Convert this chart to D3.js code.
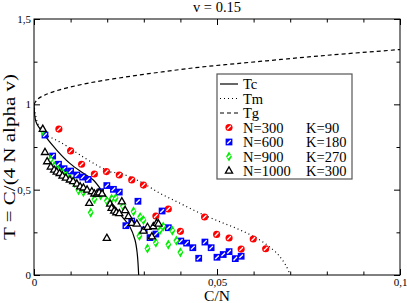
<!DOCTYPE html>
<html><head><meta charset="utf-8">
<script src="https://cdn.jsdelivr.net/npm/d3@7"></script>
<style>
body{margin:0;background:#fff}
svg{display:block}
text{font-family:"Liberation Serif","Times New Roman",serif;fill:#000}
</style>
</head><body>
<svg id="c" width="407" height="303"></svg>
<script>
// ---------- data ----------
const title = "v = 0.15";
const xLabel = "C/N";
const yLabel = "T = C/(4 N alpha v)";
const xTicks = [0, 0.05, 0.1];
const xTickLabels = ["0", "0,05", "0,1"];
const xMinor = [0.01, 0.02, 0.03, 0.04, 0.06, 0.07, 0.08, 0.09];
const yTicks = [0, 0.5, 1, 1.5];
const yTickLabels = ["0", "0,5", "1", "1,5"];
const yMinor = [0.25, 0.75, 1.25];

// theory curves
const tcX = [0, 0.0001, 0.0003, 0.0007, 0.0025, 0.0062, 0.0098, 0.0135, 0.0162, 0.019, 0.0208, 0.0224, 0.024, 0.0262, 0.0276, 0.0282, 0.0286];
const tcT = [1.0, 0.96, 0.92, 0.889, 0.83, 0.732, 0.654, 0.596, 0.557, 0.48, 0.428, 0.392, 0.344, 0.283, 0.205, 0.127, 0.0];
const tmX = [0, 0.0004, 0.0011, 0.0027, 0.0049, 0.0071, 0.0098, 0.0126, 0.0171, 0.0208, 0.0235, 0.029, 0.0344, 0.0399, 0.0454, 0.0508, 0.0563, 0.0617, 0.0654, 0.0672, 0.0689, 0.07];
const tmT = [1.0, 0.9375, 0.885, 0.832, 0.803, 0.779, 0.744, 0.703, 0.644, 0.605, 0.596, 0.547, 0.479, 0.42, 0.362, 0.312, 0.264, 0.205, 0.146, 0.107, 0.053, 0.0];
const tgX = [0, 0.001, 0.003, 0.007, 0.015, 0.025, 0.035, 0.045, 0.055, 0.065, 0.075, 0.085, 0.1];
const tgT = [1.0, 1.03, 1.055, 1.085, 1.125, 1.16, 1.19, 1.217, 1.238, 1.258, 1.278, 1.296, 1.321];

// simulations
const n300X = [0.0068,0.0100,0.0130,0.0165,0.0198,0.0233,0.0267,0.0299,0.0333,0.0367,0.0400,0.0466,0.0499,0.0533,0.0566,0.0599,0.0633];
const n300T = [0.855,0.727,0.649,0.592,0.606,0.586,0.557,0.527,0.346,0.387,0.256,0.340,0.238,0.217,0.152,0.211,0.154];
const n600X = [0.0030,0.0051,0.0067,0.0082,0.0100,0.0117,0.0133,0.0148,0.0182,0.0199,0.0217,0.0233,0.0251,0.0267,0.0284,0.0301,0.0317,0.0333,0.0350,0.0367,0.0401,0.0417,0.0434,0.0450,0.0467,0.0484,0.0500,0.0517,0.0533,0.0550,0.0566];
const n600T = [0.82,0.697,0.649,0.623,0.609,0.586,0.574,0.56,0.488,0.524,0.502,0.486,0.289,0.316,0.432,0.264,0.219,0.24,0.375,0.277,0.199,0.187,0.16,0.098,0.193,0.16,0.104,0.12,0.137,0.096,0.11];
const n900X = [0.0024,0.0045,0.0055,0.0067,0.0078,0.0089,0.0100,0.0111,0.0122,0.0135,0.0155,0.0165,0.0182,0.0199,0.0212,0.0223,0.0243,0.0272,0.0290,0.0288,0.0299,0.0310,0.0333,0.0344,0.0353,0.0367,0.0378,0.0389,0.0400];
const n900T = [0.845,0.674,0.639,0.615,0.598,0.580,0.562,0.539,0.495,0.486,0.366,0.444,0.466,0.435,0.447,0.451,0.404,0.373,0.340,0.229,0.322,0.156,0.189,0.261,0.284,0.178,0.260,0.201,0.133];
const n1000X = [0.0024,0.0030,0.0036,0.0046,0.0055,0.0062,0.0070,0.0078,0.0087,0.0098,0.0107,0.0117,0.0126,0.0135,0.0145,0.0151,0.0158,0.0165,0.0172,0.0178,0.0186,0.0199,0.0208,0.0212,0.0219,0.0225,0.0233,0.0240,0.0249,0.0258,0.0267,0.0281,0.0299,0.0310,0.0322,0.0326,0.0335,0.0340];
const n1000T = [0.854,0.718,0.664,0.633,0.615,0.603,0.595,0.580,0.568,0.557,0.547,0.533,0.517,0.510,0.498,0.420,0.488,0.475,0.475,0.482,0.475,0.215,0.416,0.391,0.375,0.365,0.360,0.429,0.378,0.342,0.303,0.299,0.258,0.279,0.224,0.283,0.303,0.299];

const seriesNames = ["N=300", "N=600", "N=900", "N=1000"];
const seriesK = ["K=90", "K=180", "K=270", "K=300"];
const curveNames = ["Tc", "Tm", "Tg"];

// ---------- layout ----------
const L = 34, R = 400, T = 19, B = 275;
const svg = d3.select("#c");
const x = d3.scaleLinear().domain([0, 0.1]).range([L, R]);
const y = d3.scaleLinear().domain([0, 1.5]).range([B, T]);

svg.append("clipPath").attr("id", "clip").append("rect")
  .attr("x", L).attr("y", T).attr("width", R - L).attr("height", B - T);

function styleAxis(g) {
  g.attr("font-family", "Liberation Serif").attr("font-size", 11);
  g.select(".domain").remove();
  g.selectAll(".tick line").attr("stroke", "#000").attr("stroke-width", 1);
  g.selectAll("text").attr("fill", "#000");
}
const fx = d => xTickLabels[xTicks.indexOf(d)];
const fy = d => yTickLabels[yTicks.indexOf(d)];
svg.append("g").attr("transform", `translate(0,${B})`)
  .call(d3.axisBottom(x).tickValues(xTicks).tickSize(-6).tickPadding(3).tickFormat(fx)).call(styleAxis);
svg.append("g").attr("transform", `translate(0,${B})`)
  .call(d3.axisBottom(x).tickValues(xMinor).tickSize(-3.5).tickFormat("")).call(styleAxis);
svg.append("g").attr("transform", `translate(0,${T})`)
  .call(d3.axisTop(x).tickValues(xTicks).tickSize(-6).tickFormat("")).call(styleAxis);
svg.append("g").attr("transform", `translate(0,${T})`)
  .call(d3.axisTop(x).tickValues(xMinor).tickSize(-3.5).tickFormat("")).call(styleAxis);
svg.append("g").attr("transform", `translate(${L},0)`)
  .call(d3.axisLeft(y).tickValues(yTicks).tickSize(-6).tickPadding(3).tickFormat(fy)).call(styleAxis);
svg.append("g").attr("transform", `translate(${L},0)`)
  .call(d3.axisLeft(y).tickValues(yMinor).tickSize(-3.5).tickFormat("")).call(styleAxis);
svg.append("g").attr("transform", `translate(${R},0)`)
  .call(d3.axisRight(y).tickValues(yTicks).tickSize(-6).tickFormat("")).call(styleAxis);
svg.append("g").attr("transform", `translate(${R},0)`)
  .call(d3.axisRight(y).tickValues(yMinor).tickSize(-3.5).tickFormat("")).call(styleAxis);

// curves
const plot = svg.append("g").attr("clip-path", "url(#clip)");
const zip = (a, b) => a.map((v, i) => [v, b[i]]);
const cline = d3.line().x(d => x(d[0])).y(d => y(d[1])).curve(d3.curveCatmullRom);
plot.append("path").datum(zip(tcX, tcT)).attr("d", cline)
  .attr("fill", "none").attr("stroke", "#000").attr("stroke-width", 1.2);
plot.append("path").datum(zip(tmX, tmT)).attr("d", cline)
  .attr("fill", "none").attr("stroke", "#000").attr("stroke-width", 1.2).attr("stroke-dasharray", "1,3");
plot.append("path").datum(zip(tgX, tgT)).attr("d", cline)
  .attr("fill", "none").attr("stroke", "#000").attr("stroke-width", 1.2).attr("stroke-dasharray", "4,3");

// markers
const sym = {
  circle: d3.symbol().type(d3.symbolCircle).size(40)(),
  square: d3.symbol().type(d3.symbolSquare).size(46)(),
  diamond: d3.symbol().type(d3.symbolDiamond).size(30)(),
  triangle: d3.symbol().type(d3.symbolTriangle).size(22)()
};
function drawMarker(g, kind, color) {
  if (kind === "triangle") {
    g.append("path").attr("d", sym.triangle).attr("fill", "#fff").attr("stroke", color).attr("stroke-width", 1.3);
  } else {
    g.append("path").attr("d", sym[kind]).attr("fill", color);
    const k = kind === "diamond" ? 1.3 : 1.8;
    g.append("line").attr("x1", -k).attr("y1", k).attr("x2", k).attr("y2", -k)
      .attr("stroke", "#fff").attr("stroke-width", kind === "diamond" ? 1.8 : 1.3);
  }
}
const series = [
  {xs: n300X, ts: n300T, kind: "circle", color: "#ff0000"},
  {xs: n600X, ts: n600T, kind: "square", color: "#0000ff"},
  {xs: n900X, ts: n900T, kind: "diamond", color: "#00ee00"},
  {xs: n1000X, ts: n1000T, kind: "triangle", color: "#000"}
];
series.forEach(s => {
  zip(s.xs, s.ts).forEach(p => {
    const g = svg.append("g").attr("transform", `translate(${x(p[0])},${y(p[1])})`);
    drawMarker(g, s.kind, s.color);
  });
});

// frame
svg.append("rect").attr("x", L).attr("y", T).attr("width", R - L).attr("height", B - T)
  .attr("fill", "none").attr("stroke", "#000").attr("stroke-width", 1);

// legend
const lg = svg.append("g");
lg.append("rect").attr("x", 217).attr("y", 74).attr("width", 135).attr("height", 105)
  .attr("fill", "#fff").attr("stroke", "#555").attr("stroke-width", 1.2);
const rowY = [84, 98.5, 113, 127.5, 142, 156.5, 171];
const dashes = [null, "1,3", "4,3"];
curveNames.forEach((nm, i) => {
  const l = lg.append("line").attr("x1", 220).attr("x2", 238).attr("y1", rowY[i]).attr("y2", rowY[i])
    .attr("stroke", "#000").attr("stroke-width", 1.2);
  if (dashes[i]) l.attr("stroke-dasharray", dashes[i]);
  lg.append("text").attr("x", 243).attr("y", rowY[i] + 5).style("font-size", "14.5px").text(nm);
});
series.forEach((s, i) => {
  const yy = rowY[i + 3];
  const g = lg.append("g").attr("transform", `translate(229,${yy})`);
  drawMarker(g, s.kind, s.color);
  lg.append("text").attr("x", 243).attr("y", yy + 5).style("font-size", "14.5px").text(seriesNames[i]);
  lg.append("text").attr("x", 306).attr("y", yy + 5).style("font-size", "14.5px").text(seriesK[i]);
});

// titles
svg.append("text").attr("x", 217).attr("y", 12).attr("text-anchor", "middle").style("font-size", "14.5px").text(title);
svg.append("text").attr("x", 217).attr("y", 301).attr("text-anchor", "middle").style("font-size", "15.5px").text(xLabel);
svg.append("text").attr("transform", "translate(15,157) rotate(-90)").attr("text-anchor", "middle")
  .attr("textLength", 166).attr("lengthAdjust", "spacingAndGlyphs")
  .style("font-size", "17px").text(yLabel);
</script>
</body></html>
